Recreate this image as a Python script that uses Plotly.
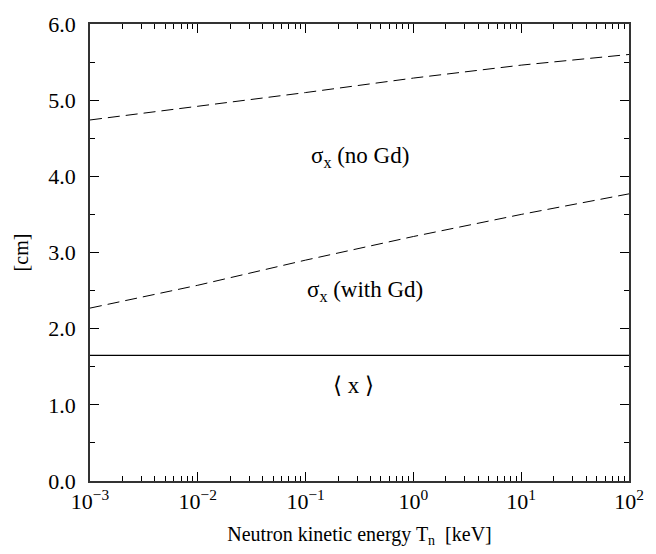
import plotly.graph_objects as go

# Neutron kinetic energy grid (keV), one point per decade
energy_kev = [1e-3, 1e-2, 1e-1, 1e0, 1e1, 1e2]

# Spatial spread sigma_x [cm] without and with gadolinium loading
sigma_no_gd = [4.74, 4.92, 5.10, 5.29, 5.46, 5.60]
sigma_with_gd = [2.27, 2.57, 2.90, 3.21, 3.50, 3.77]

# Mean displacement <x> [cm], constant over energy
mean_x = [1.65, 1.65, 1.65, 1.65, 1.65, 1.65]

x_ticks = [1e-3, 1e-2, 1e-1, 1e0, 1e1, 1e2]
x_ticktext = ["10<sup>−3</sup>", "10<sup>−2</sup>", "10<sup>−1</sup>",
              "10<sup>0</sup>", "10<sup>1</sup>", "10<sup>2</sup>"]
y_ticks = [0, 1, 2, 3, 4, 5, 6]
y_ticktext = ["0.0", "1.0", "2.0", "3.0", "4.0", "5.0", "6.0"]

FONT = "Liberation Serif, Times New Roman, serif"

fig = go.Figure()
fig.add_trace(go.Scatter(x=energy_kev, y=sigma_no_gd, mode="lines",
                         line=dict(color="black", width=1, dash="12px,6px")))
fig.add_trace(go.Scatter(x=energy_kev, y=sigma_with_gd, mode="lines",
                         line=dict(color="black", width=1, dash="12px,6px")))
fig.add_trace(go.Scatter(x=energy_kev, y=mean_x, mode="lines",
                         line=dict(color="black", width=1.2)))

# Curve labels; x positions are log10(energy) on the log axis
labels = [
    (-0.5, 4.25, "σ<sub>x</sub> (no Gd)"),
    (-0.45, 2.49, "σ<sub>x</sub> (with Gd)"),
    (-0.56, 1.25, "⟨ x ⟩"),
]
for lx, ly, txt in labels:
    fig.add_annotation(x=lx, y=ly, xref="x", yref="y", text=txt,
                       showarrow=False, xanchor="center", yanchor="middle",
                       font=dict(family=FONT, size=23, color="black"))

fig.update_layout(
    width=656, height=554,
    margin=dict(l=90, r=15, t=21, b=73),
    paper_bgcolor="white", plot_bgcolor="white",
    showlegend=False,
    font=dict(family=FONT, size=20, color="black"),
    xaxis=dict(
        type="log", range=[-3, 2],
        tickvals=x_ticks, ticktext=x_ticktext,
        ticks="inside", ticklen=9, tickwidth=1, tickcolor="black",
        minor=dict(ticks="inside", ticklen=5, tickwidth=1, tickcolor="black",
                   dtick="D1", showgrid=False),
        showline=True, linecolor="#333333", linewidth=1.5, mirror="ticks",
        showgrid=False, zeroline=False,
        tickfont=dict(family=FONT, size=22),
        title=dict(text="Neutron kinetic energy T<sub>n</sub>  [keV]",
                   font=dict(family=FONT, size=20), standoff=14),
    ),
    yaxis=dict(
        range=[0, 6],
        tickvals=y_ticks, ticktext=y_ticktext,
        ticks="inside", ticklen=9, tickwidth=1, tickcolor="black",
        minor=dict(ticks="inside", ticklen=5, tickwidth=1, tickcolor="black",
                   dtick=0.5, showgrid=False),
        showline=True, linecolor="#333333", linewidth=1.5, mirror="ticks",
        showgrid=False, zeroline=False,
        ticklabelstandoff=8,
        tickfont=dict(family=FONT, size=22),
        title=dict(text="[cm]", font=dict(family=FONT, size=20), standoff=14),
    ),
)

fig.write_html("out.html")
